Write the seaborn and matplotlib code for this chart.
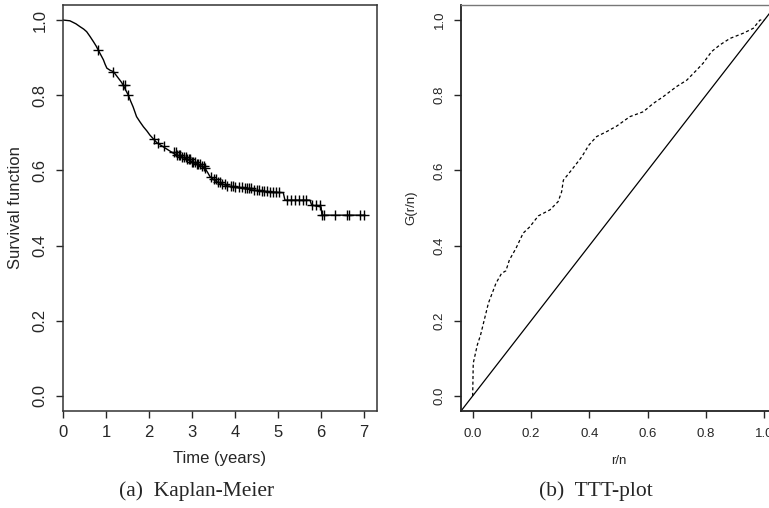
import matplotlib
matplotlib.use("Agg")
import matplotlib.pyplot as plt
import numpy as np
import pandas as pd
import seaborn as sns

# Kaplan-Meier estimate
km_time = [0.0, 0.16, 0.30, 0.40, 0.48, 0.55, 0.63, 0.71, 0.77, 0.82, 0.88, 0.94, 0.98,
           1.02, 1.10, 1.17, 1.23, 1.29, 1.35, 1.40, 1.46, 1.52, 1.57, 1.63, 1.67, 1.71,
           1.79, 1.87, 1.95, 2.02, 2.10, 2.18, 2.30, 2.41, 2.52, 2.64, 2.76, 2.88, 3.00,
           3.11, 3.20, 3.30, 3.36, 3.42, 3.50, 3.57, 3.68, 3.81, 4.00, 4.19, 4.40, 4.58,
           4.80, 5.05, 5.12, 5.16, 5.74, 5.78, 5.98, 6.00, 6.02, 7.02]
km_surv = [1.0, 0.998, 0.990, 0.982, 0.976, 0.969, 0.956, 0.942, 0.931, 0.920, 0.907,
           0.894, 0.882, 0.872, 0.866, 0.863, 0.854, 0.845, 0.836, 0.827, 0.813, 0.800,
           0.785, 0.769, 0.756, 0.743, 0.729, 0.716, 0.705, 0.694, 0.684, 0.674, 0.665,
           0.657, 0.649, 0.641, 0.636, 0.630, 0.623, 0.617, 0.612, 0.606, 0.595, 0.583,
           0.576, 0.570, 0.565, 0.559, 0.555, 0.552, 0.548, 0.545, 0.543, 0.541, 0.541,
           0.521, 0.521, 0.508, 0.503, 0.503, 0.481, 0.481]

# censored observations
cens_time = [0.82, 1.17, 1.40, 1.45, 1.52, 2.12, 2.22, 2.35, 2.58, 2.62, 2.66, 2.70,
             2.73, 2.77, 2.81, 2.85, 2.88, 2.92, 2.96, 3.00, 3.03, 3.07, 3.11, 3.15,
             3.19, 3.23, 3.27, 3.31, 3.44, 3.50, 3.55, 3.60, 3.65, 3.70, 3.76, 3.82,
             3.90, 3.95, 4.00, 4.10, 4.15, 4.22, 4.28, 4.33, 4.38, 4.45, 4.50, 4.55,
             4.62, 4.68, 4.75, 4.82, 4.88, 4.95, 5.02, 5.20, 5.30, 5.40, 5.48, 5.58,
             5.66, 5.80, 5.88, 5.97, 6.03, 6.06, 6.33, 6.60, 6.66, 6.91, 7.00]

# TTT-plot (scaled total time on test)
ttt_r = [0.0, 0.002, 0.016, 0.027, 0.054, 0.080, 0.099, 0.114, 0.126, 0.148, 0.173,
         0.196, 0.225, 0.265, 0.293, 0.305, 0.311, 0.339, 0.374, 0.399, 0.425, 0.459,
         0.494, 0.539, 0.585, 0.619, 0.653, 0.699, 0.734, 0.768, 0.790, 0.819, 0.848,
         0.882, 0.928, 0.962, 0.985, 1.0]
ttt_g = [0.0, 0.087, 0.136, 0.162, 0.247, 0.300, 0.326, 0.333, 0.362, 0.392, 0.433,
         0.450, 0.479, 0.495, 0.517, 0.543, 0.574, 0.601, 0.636, 0.668, 0.690, 0.703,
         0.718, 0.743, 0.756, 0.778, 0.796, 0.823, 0.840, 0.867, 0.885, 0.916, 0.934,
         0.951, 0.965, 0.978, 1.0, 1.0]

sns.set_style("ticks")
plt.rcParams["font.family"] = ["Liberation Sans", "DejaVu Sans"]

km = pd.DataFrame({"time": km_time, "surv": km_surv})
idx = np.searchsorted(km_time, cens_time, side="right") - 1
cens = pd.DataFrame({"time": cens_time, "surv": np.array(km_surv)[idx]})
ttt = pd.DataFrame({"r": ttt_r, "g": ttt_g})

W, H = 769, 508
fig = plt.figure(figsize=(W / 100, H / 100), dpi=100)
ax1 = fig.add_axes([63 / W, (H - 411) / H, 314 / W, 406 / H])
ax2 = fig.add_axes([461 / W, (H - 411) / H, 315 / W, 406 / H])

# (a) Kaplan-Meier
sns.lineplot(data=km, x="time", y="surv", ax=ax1, color="black", lw=1.0,
             estimator=None)
sns.scatterplot(data=cens, x="time", y="surv", ax=ax1, marker="+", s=60,
                color="black", linewidth=1.0)
ax1.set_xlim(0, 7.3)
ax1.set_ylim(-0.04, 1.04)
ax1.set_xticks(range(8))
ax1.set_yticks([0.0, 0.2, 0.4, 0.6, 0.8, 1.0])
ax1.set_yticklabels(["0.0", "0.2", "0.4", "0.6", "0.8", "1.0"], rotation=90, va="center")
ax1.tick_params(axis="both", length=5, width=1, labelsize=12)
ax1.tick_params(axis="x", pad=5)
ax1.tick_params(axis="y", pad=6)
ax1.set_xlabel("Time (years)", fontsize=12, labelpad=8)
ax1.set_ylabel("Survival function", fontsize=12, labelpad=7)
for s in ax1.spines.values():
    s.set_color("#333333")
    s.set_linewidth(1.1)

# (b) TTT-plot
sns.lineplot(data=ttt, x="r", y="g", ax=ax2, color="black", lw=0.9,
             linestyle=(0, (2.5, 2.0)), estimator=None)
ax2.plot([-0.04, 1.04], [-0.04, 1.04], color="black", lw=0.9)
ax2.set_xlim(-0.04, 1.04)
ax2.set_ylim(-0.04, 1.04)
ax2.set_xticks([0.0, 0.2, 0.4, 0.6, 0.8, 1.0])
ax2.set_xticklabels(["0.0", "0.2", "0.4", "0.6", "0.8", "1.0"])
ax2.set_yticks([0.0, 0.2, 0.4, 0.6, 0.8, 1.0])
ax2.set_yticklabels(["0.0", "0.2", "0.4", "0.6", "0.8", "1.0"], rotation=90, va="center")
ax2.tick_params(axis="both", length=5, width=1, labelsize=9.5)
ax2.tick_params(axis="x", pad=7)
ax2.tick_params(axis="y", pad=6)
ax2.set_xlabel("r/n", fontsize=9.5, labelpad=11)
ax2.set_ylabel("G(r/n)", fontsize=9.5, labelpad=12)
for name, s in ax2.spines.items():
    s.set_color("#222222" if name in ("left", "bottom") else "#777777")
    s.set_linewidth(1.3 if name in ("left", "bottom") else 1.0)

fig.text(197 / W, 1 - 491 / H, "(a)  Kaplan-Meier", ha="center", va="center",
         fontsize=15.5, family="Liberation Serif")
fig.text(596 / W, 1 - 491 / H, "(b)  TTT-plot", ha="center", va="center",
         fontsize=15.5, family="Liberation Serif")

fig.savefig("out.png", dpi=100)
